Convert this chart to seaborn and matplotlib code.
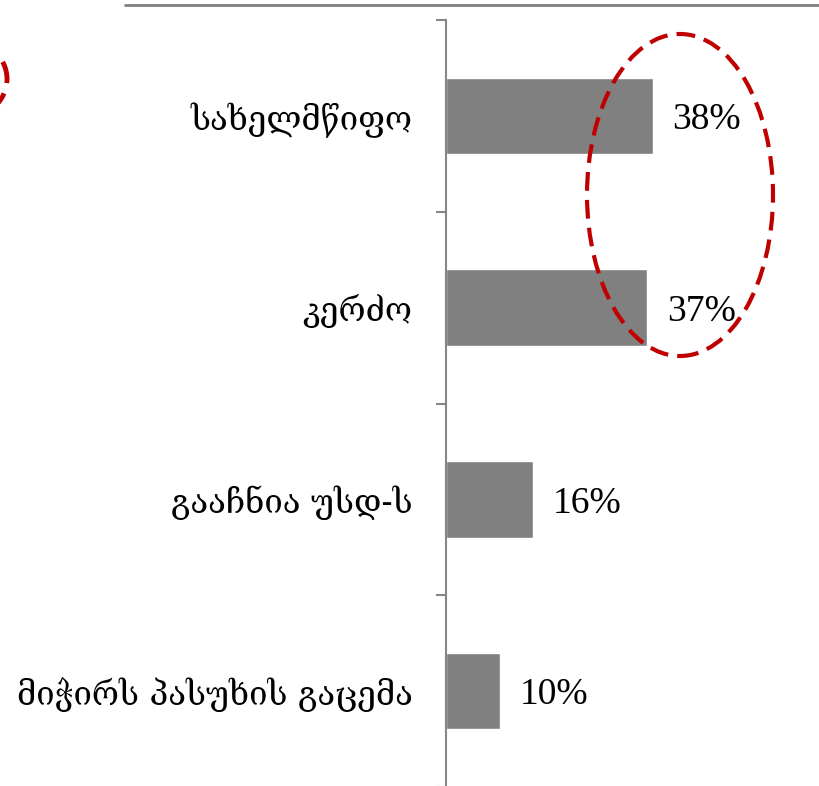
import seaborn as sns
import pandas as pd
import matplotlib.pyplot as plt
from matplotlib.patches import Ellipse
from matplotlib.lines import Line2D

categories = ["სახელმწიფო", "კერძო", "გააჩნია უსდ-ს", "მიჭირს პასუხის გაცემა"]
values = [38, 37, 16, 10]
value_labels = ["38%", "37%", "16%", "10%"]

df = pd.DataFrame({"category": categories, "value": values})

sns.set_theme(style="white")
W, H, DPI = 819, 786, 100
fig = plt.figure(figsize=(W / DPI, H / DPI), dpi=DPI)

# axes placed in pixel terms: y-axis at x=446, plot from y=20 down past the bottom edge
ax = fig.add_axes([446 / W, -1 / H, (814 - 446) / W, 767 / H])
sns.barplot(data=df, y="category", x="value", orient="h", color="#808080",
            saturation=1, width=0.4, ax=ax)

ax.set_xlim(0, (814 - 446) / 5.44)
ax.set_ylim(3.5, -0.5)
ax.set_xlabel("")
ax.set_ylabel("")
ax.set_xticks([])
for s in ["top", "right", "bottom"]:
    ax.spines[s].set_visible(False)
ax.spines["left"].set_color("#868686")
ax.spines["left"].set_linewidth(1.5)

# category labels, tick marks at category boundaries
ax.tick_params(axis="y", which="major", length=0, pad=24)
ax.set_yticks([-0.5, 0.5, 1.5, 2.5, 3.5], minor=True)
ax.tick_params(axis="y", which="minor", length=7, width=1.5, color="#868686", left=True)
for lab in ax.get_yticklabels():
    lab.set_fontfamily(["DejaVu Serif", "DejaVu Sans"])
    lab.set_fontsize(23.7)
    lab.set_color("black")
    lab.set_va("center_baseline")

texts = ax.bar_label(ax.containers[0], labels=value_labels, padding=14,
                     fontsize=27, family="Liberation Serif", color="black")
for t in texts:
    t.set_va("center_baseline")

# dashed red ellipse around top two values (pixel coords -> figure fraction)
def px(x, y):
    return x / W, 1 - y / H

cx, cy = px(680, 195)
fig.patches.append(Ellipse((cx, cy), 186 / W, 322 / H, transform=fig.transFigure,
                           fill=False, edgecolor="#C00000", linewidth=3,
                           linestyle=(0, (4.5, 2.2))))
cx, cy = px(-40, 79)
fig.patches.append(Ellipse((cx, cy), 94 / W, 82 / H, transform=fig.transFigure,
                           fill=False, edgecolor="#C00000", linewidth=3.5,
                           linestyle=(0, (4.5, 2.2))))

# grey rule at the top
x0, y0 = px(125, 5)
x1, _ = px(819, 5)
fig.lines.append(Line2D([x0, x1], [y0, y0], transform=fig.transFigure,
                        color="#808080", linewidth=2))

plt.savefig("out.png", dpi=DPI)
